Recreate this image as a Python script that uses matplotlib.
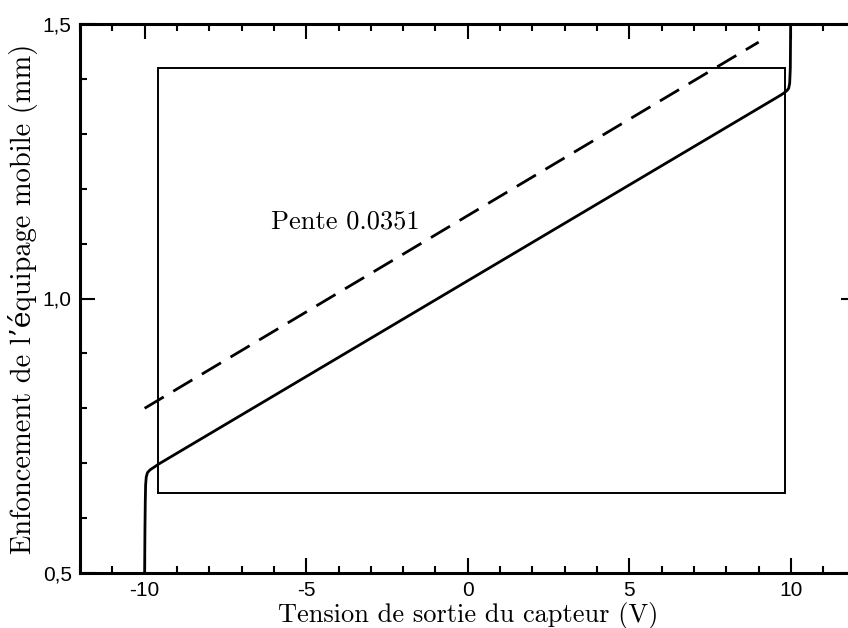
import matplotlib
matplotlib.use("Agg")
import matplotlib.pyplot as plt
from matplotlib.ticker import MultipleLocator, FixedLocator

# ---- data ----
solid_x = [-10.00, -9.99, -9.98, -9.97, -9.95, -9.91, -9.83, -9.70, -9.55,
           9.70, 9.82, 9.88, 9.93, 9.96, 9.98, 9.99]
solid_y = [0.50, 0.58, 0.63, 0.66, 0.675, 0.683, 0.688, 0.693, 0.699,
           1.371, 1.376, 1.379, 1.383, 1.392, 1.42, 1.50]
dash_x = [-10.0, 9.0]
dash_y = [0.800, 1.467]
rect_x = [-9.60, 9.83, 9.83, -9.60, -9.60]
rect_y = [0.646, 0.646, 1.420, 1.420, 0.646]
annot_text = "Pente 0.0351"
annot_pos = (-6.1, 1.14)
xticks = [-10, -5, 0, 5, 10]
xtick_labels = ["-10", "-5", "0", "5", "10"]
yticks = [0.5, 1.0, 1.5]
ytick_labels = ["0,5", "1,0", "1,5"]
xlabel = "Tension de sortie du capteur (V)"
ylabel = "Enfoncement de l\u2019\u00e9quipage mobile (mm)"

W, H = 848, 628
fig = plt.figure(figsize=(W / 100, H / 100), dpi=100)
ax = fig.add_axes([80 / W, 1 - 573 / H, (855.6 - 80) / W, (573 - 24) / H])

serif = ["cmr10", "DejaVu Serif"]
sans = ["Liberation Sans", "DejaVu Sans"]

ax.plot(rect_x, rect_y, color="black", lw=1.4, solid_joinstyle="miter")
ax.plot(dash_x, dash_y, color="black", lw=2.0, dashes=(8, 4))
ax.plot(solid_x, solid_y, color="black", lw=2.0)

ax.text(annot_pos[0], annot_pos[1], annot_text, family=serif, fontsize=19,
        va="center", ha="left")

ax.set_xlim(-12, 12)
ax.set_ylim(0.5, 1.5)
ax.xaxis.set_major_locator(FixedLocator(xticks))
ax.set_xticklabels(xtick_labels, family=sans, fontsize=15)
ax.xaxis.set_minor_locator(MultipleLocator(1))
ax.yaxis.set_major_locator(FixedLocator(yticks))
ax.set_yticklabels(ytick_labels, family=sans, fontsize=15)
ax.yaxis.set_minor_locator(MultipleLocator(0.1))

ax.tick_params(which="both", direction="in", top=True, right=True, width=1.5)
ax.tick_params(which="major", length=11, pad=6)
ax.tick_params(which="minor", length=5)
for s in ax.spines.values():
    s.set_linewidth(2.2)

ax.set_xlabel(xlabel, family=serif, fontsize=19, labelpad=1)
ax.set_ylabel(ylabel, family=serif, fontsize=20.5, labelpad=3)

fig.savefig("out.png", dpi=100)
